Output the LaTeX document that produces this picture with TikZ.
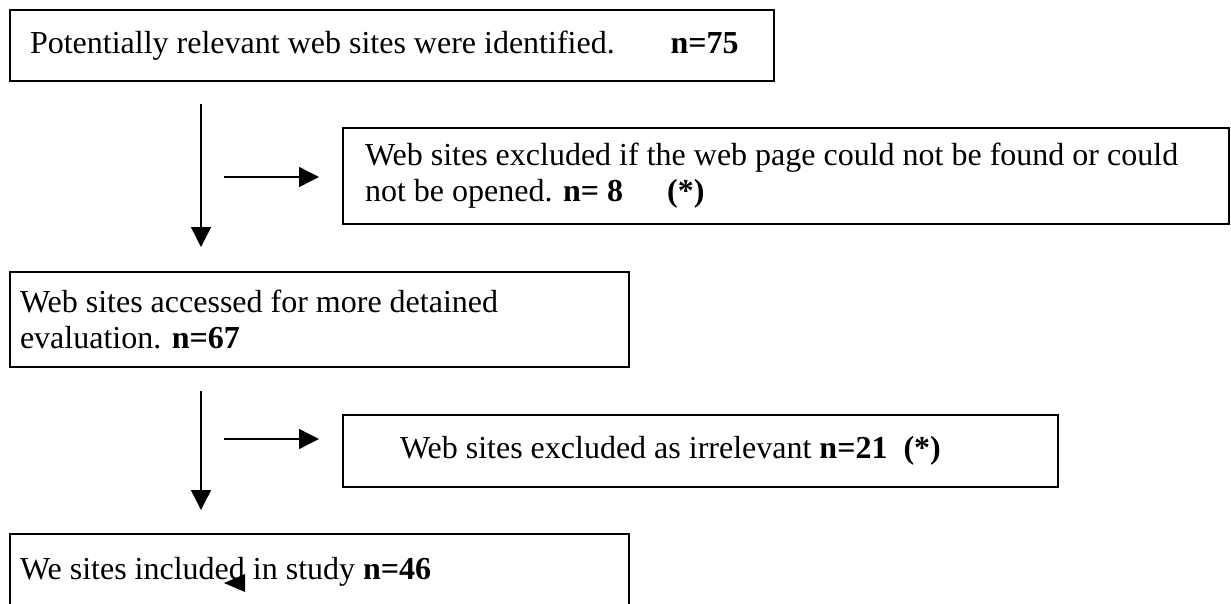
\documentclass[tikz,border=0pt]{standalone}
\usepackage{fontspec}
\setmainfont{Liberation Serif}
\usetikzlibrary{arrows.meta,positioning}

\begin{document}
\begin{tikzpicture}[
    x=1pt, y=-1pt,
    font=\fontsize{32}{36}\selectfont,
    stagebox/.style={
        draw,
        line width=1.6pt,
        anchor=north west,
        outer sep=0pt,
        inner ysep=0pt,
        align=flush left
    },
    flowarrow/.style={-{Triangle[length=20pt,width=20pt]}, line width=1.4pt}
]
    \useasboundingbox (0,0) rectangle (1231,603);

    \node[stagebox, minimum height=71pt, text width=724pt, inner xsep=20pt] (found) at (10,10)
        {Potentially relevant web sites were identified.\hspace{56pt}\textbf{n=75}};
    \node[stagebox, minimum height=96pt, text width=842pt, inner xsep=22pt] (notopened) at (343,128)
        {Web sites excluded if the web page could not be found or could\\
         not be opened. \textbf{n= 8}\hspace{44pt}\textbf{(*)}};
    \node[stagebox, minimum height=95pt, text width=599pt, inner xsep=10pt] (accessed) at (10,272)
        {Web sites accessed for more detained\\evaluation. \textbf{n=67}};
    \node[stagebox, minimum height=72pt, text width=601pt, inner xsep=57pt] (irrelevant) at (343,415)
        {Web sites excluded as irrelevant \textbf{n=21}\hspace{16pt}\textbf{(*)}};
    \node[stagebox, minimum height=75pt, text width=599pt, inner xsep=10pt] (included) at (10,534)
        {We sites included in study \textbf{n=46}};

    % free standing arrows
    \coordinate (down1a) at (201,104);
    \coordinate (down1b) at (201,247);
    \coordinate (side1a) at (224,177);
    \coordinate (side1b) at (319,177);
    \coordinate (down2a) at (201,391);
    \coordinate (down2b) at (201,510);
    \coordinate (side2a) at (224,439);
    \coordinate (side2b) at (319,439);

    \draw[flowarrow] (down1a) -- (down1b);
    \draw[flowarrow] (side1a) -- (side1b);
    \draw[flowarrow] (down2a) -- (down2b);
    \draw[flowarrow] (side2a) -- (side2b);

    % stray arrow head inside the last box
    \fill (224,583) -- (245,574) -- (245,592) -- cycle;
\end{tikzpicture}
\end{document}
